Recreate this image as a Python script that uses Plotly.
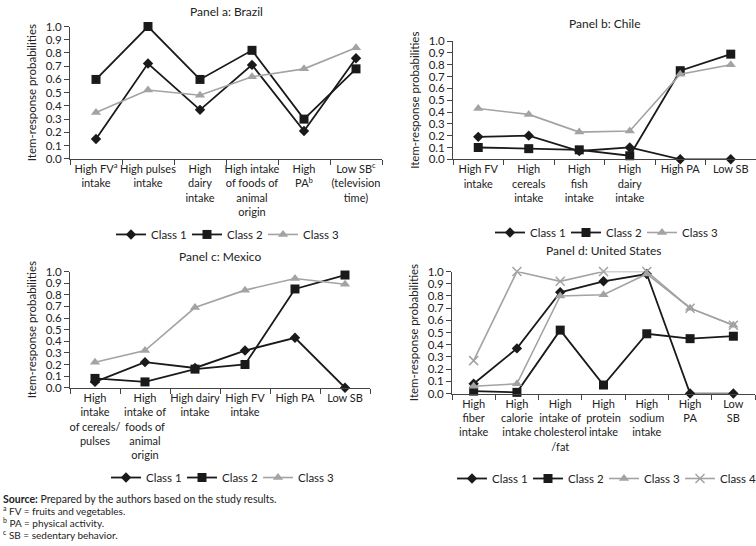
import plotly.graph_objects as go

# ---------------- data ----------------
brazil_cats = ["High FV<sup>a</sup><br>intake", "High pulses<br>intake", "High<br>dairy<br>intake",
               "High intake<br>of foods of<br>animal<br>origin", "High<br>PA<sup>b</sup>",
               "Low SB<sup>c</sup><br>(television<br>time)"]
brazil_c1 = [0.15, 0.72, 0.37, 0.71, 0.21, 0.76]
brazil_c2 = [0.60, 1.00, 0.60, 0.82, 0.30, 0.68]
brazil_c3 = [0.35, 0.52, 0.48, 0.62, 0.68, 0.84]

chile_cats = ["High FV<br>intake", "High<br>cereals<br>intake", "High<br>fish<br>intake",
              "High<br>dairy<br>intake", "High PA", "Low SB"]
chile_c1 = [0.19, 0.20, 0.07, 0.10, 0.00, 0.00]
chile_c2 = [0.10, 0.09, 0.08, 0.03, 0.75, 0.89]
chile_c3 = [0.43, 0.38, 0.23, 0.24, 0.72, 0.80]

mexico_cats = ["High<br>intake<br>of cereals/<br>pulses", "High<br>intake of<br>foods of<br>animal<br>origin",
               "High dairy<br>intake", "High FV<br>intake", "High PA", "Low SB"]
mexico_c1 = [0.05, 0.22, 0.17, 0.32, 0.43, 0.00]
mexico_c2 = [0.08, 0.05, 0.16, 0.20, 0.85, 0.97]
mexico_c3 = [0.22, 0.32, 0.69, 0.84, 0.94, 0.89]

us_cats = ["High<br>fiber<br>intake", "High<br>calorie<br>intake", "High<br>intake of<br>cholesterol<br>/fat",
           "High<br>protein<br>intake", "High<br>sodium<br>intake", "High<br>PA", "Low<br>SB"]
us_c1 = [0.08, 0.37, 0.83, 0.92, 0.98, 0.00, 0.00]
us_c2 = [0.02, 0.01, 0.52, 0.07, 0.49, 0.45, 0.47]
us_c3 = [0.06, 0.08, 0.80, 0.81, 0.98, 0.70, 0.56]
us_c4 = [0.27, 1.00, 0.92, 1.00, 1.00, 0.70, 0.56]

yticks = [0.0, 0.1, 0.2, 0.3, 0.4, 0.5, 0.6, 0.7, 0.8, 0.9, 1.0]
ytick_text = [f"{v:.1f}" for v in yticks]

FONT = "Lato, Liberation Sans, sans-serif"
TXT = "#222222"
BLACK = "#1a1a1a"
GRAY = "#a3a3a3"

W, H = 756, 546


def fnt(size, **kw):
    d = dict(family=FONT, size=size, color=TXT)
    d.update(kw)
    return d


def px_x(a, b):
    return [a / W, b / W]


def px_y(top, bottom):
    return [1 - bottom / H, 1 - top / H]


styles = {
    "Class 1": dict(color=BLACK, symbol="diamond", size=8, width=1.8),
    "Class 2": dict(color=BLACK, symbol="square", size=9, width=1.8),
    "Class 3": dict(color=GRAY, symbol="triangle-up", size=9, width=1.6),
    "Class 4": dict(color=GRAY, symbol="x-thin-open", size=9, width=1.6),
}

panels = [
    dict(cats=brazil_cats, series=[("Class 1", brazil_c1), ("Class 2", brazil_c2), ("Class 3", brazil_c3)],
         xd=px_x(70, 382), yd=px_y(20, 155.5), title="Panel a: Brazil", ty=5, legy=233, legx=225),
    dict(cats=chile_cats, series=[("Class 1", chile_c1), ("Class 2", chile_c2), ("Class 3", chile_c3)],
         xd=px_x(453, 756), yd=px_y(35, 156), title="Panel b: Chile", ty=17, legy=231, legx=604),
    dict(cats=mexico_cats, series=[("Class 1", mexico_c1), ("Class 2", mexico_c2), ("Class 3", mexico_c3)],
         xd=px_x(70, 370), yd=px_y(271, 390), title="Panel c: Mexico", ty=256, legy=482, legx=220),
    dict(cats=us_cats, series=[("Class 1", us_c1), ("Class 2", us_c2), ("Class 3", us_c3), ("Class 4", us_c4)],
         xd=px_x(452, 755), yd=px_y(271, 396), title="Panel d: United States", ty=249, legy=483, legx=604),
]

fig = go.Figure()
annotations = []
layout = {}

for i, p in enumerate(panels, start=1):
    sfx = "" if i == 1 else str(i)
    leg = "legend" if i == 1 else f"legend{i}"
    for name, vals in p["series"]:
        s = styles[name]
        fig.add_trace(go.Scatter(
            x=p["cats"], y=vals, name=name, mode="lines+markers",
            line=dict(color=s["color"], width=s["width"]),
            marker=dict(symbol=s["symbol"], size=s["size"], color=s["color"],
                        line=dict(color=s["color"], width=1.5 if name == "Class 4" else 0)),
            xaxis=f"x{sfx}", yaxis=f"y{sfx}", legend=leg, cliponaxis=False,
            hoverinfo="skip"))
    n = len(p["cats"])
    layout[f"xaxis{sfx}"] = dict(
        domain=p["xd"], anchor=f"y{sfx}", type="category", range=[-0.5, n - 0.5],
        showline=True, linecolor="#444", linewidth=1, ticks="outside", tickson="boundaries",
        ticklen=5, tickcolor="#444", showgrid=False, zeroline=False,
        tickfont=fnt(11), tickangle=0, fixedrange=True)
    layout[f"yaxis{sfx}"] = dict(
        domain=p["yd"], anchor=f"x{sfx}", range=[0, 1], tickvals=yticks, ticktext=ytick_text,
        showline=True, linecolor="#444", linewidth=1, ticks="outside", ticklen=5, tickcolor="#444",
        showgrid=False, zeroline=False, tickfont=fnt(11.5),
        title=dict(text="Item-response probabilities", font=fnt(11.5), standoff=6),
        fixedrange=True)
    cx = (p["xd"][0] + p["xd"][1]) / 2
    annotations.append(dict(text=p["title"], x=cx, y=1 - p["ty"] / H, xref="paper", yref="paper",
                            xanchor="center", yanchor="middle", showarrow=False, font=fnt(12)))
    layout[leg] = dict(orientation="h", x=p["legx"] / W, xanchor="center", y=1 - p["legy"] / H,
                       yanchor="middle", bgcolor="rgba(0,0,0,0)", font=fnt(11.5),
                       itemwidth=30, entrywidth=31, entrywidthmode="pixels",
                       traceorder="normal", itemclick=False, itemdoubleclick=False)

foot = [
    ("<b>Source:</b> Prepared by the authors based on the study results.", 504, 10.5),
    ("<sup>a</sup> FV = fruits and vegetables.", 516, 10),
    ("<sup>b</sup> PA = physical activity.", 528, 10),
    ("<sup>c</sup> SB = sedentary behavior.", 540, 10),
]
for t, y, sz in foot:
    annotations.append(dict(text=t, x=1 / W, y=1 - y / H, xref="paper", yref="paper",
                            xanchor="left", yanchor="middle", showarrow=False, align="left",
                            font=fnt(sz)))

fig.update_layout(
    width=W, height=H, margin=dict(l=0, r=0, t=0, b=0),
    paper_bgcolor="white", plot_bgcolor="white",
    font=fnt(12),
    annotations=annotations, showlegend=True, **layout)

fig.write_html("out.html", config={"displayModeBar": False},
               post_script="document.body.style.margin='0';document.body.style.overflow='hidden';")
